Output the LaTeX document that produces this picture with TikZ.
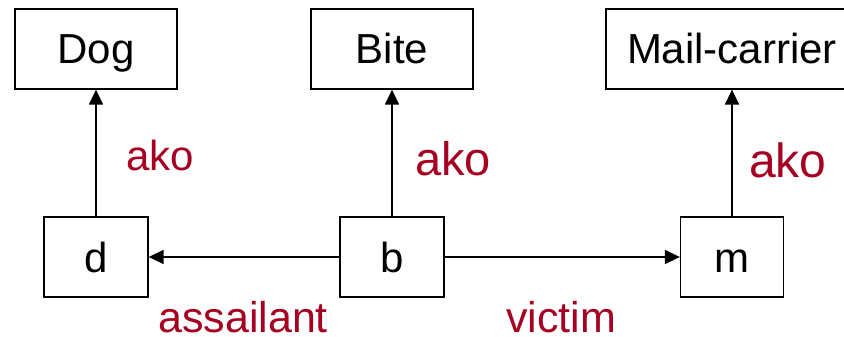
\documentclass[tikz,border=0pt]{standalone}
\usepackage{fontspec}
\setmainfont{Liberation Sans}
\usetikzlibrary{arrows.meta}
\definecolor{labelred}{RGB}{165,0,33}
\tikzset{
  concept/.style={draw, line width=1.3pt, rectangle, inner sep=0pt,
    minimum height=80pt, text height=30pt, text depth=0pt,
    font=\fontsize{42}{50}\selectfont},
  link/.style={line width=1.7pt, -{Triangle[length=15pt,width=14pt]}},
  rel/.style={text=labelred, anchor=base west, inner sep=0pt, text depth=0pt},
}
\begin{document}
\begin{tikzpicture}[x=1pt, y=-1pt]
  \useasboundingbox (0,0) rectangle (844,337);
  \clip (0,0) rectangle (844,337);
  % type nodes
  \node[concept, minimum width=162pt] (dog)  at (96,49)  {Dog};
  \node[concept, minimum width=162pt] (bite) at (392,49) {Bite};
  \node[concept, minimum width=252pt] (mail) at (732,49) {Mail-carrier};
  % instance nodes
  \node[concept, minimum width=104pt] (d) at (96,257)  {d};
  \node[concept, minimum width=104pt] (b) at (392,257) {b};
  \node[concept, minimum width=103pt] (m) at (732,257) {m};
  % ako links
  \draw[link] (d) -- (dog);
  \draw[link] (b) -- (bite);
  \draw[link] (m) -- (mail);
  % role links
  \draw[link] (b) -- (d);
  \draw[link] (b) -- (m);
  % link labels
  \node[rel, font=\fontsize{42}{50}\selectfont] (l1) at (126,170) {ako};
  \node[rel, font=\fontsize{47}{56}\selectfont] (l2) at (415,175) {ako};
  \node[rel, font=\fontsize{48}{58}\selectfont] (l3) at (749,177) {ako};
  \node[rel, font=\fontsize{43}{52}\selectfont] (l4) at (158,332) {assailant};
  \node[rel, font=\fontsize{43}{52}\selectfont] (l5) at (506,332) {victim};
\end{tikzpicture}
\end{document}
